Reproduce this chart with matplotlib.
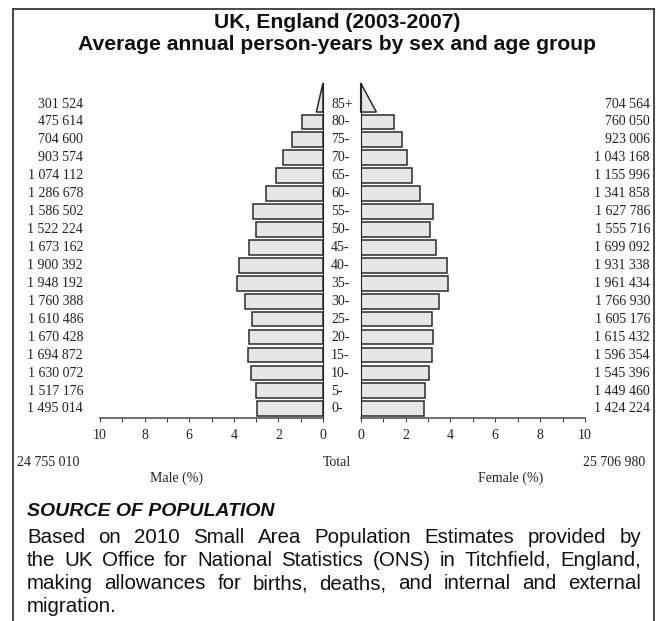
import numpy as np
import matplotlib
matplotlib.use("Agg")
import matplotlib.pyplot as plt
from matplotlib.patches import Polygon
from matplotlib.lines import Line2D

# Age groups, youngest first
age_groups = ["0-", "5-", "10-", "15-", "20-", "25-", "30-", "35-", "40-",
              "45-", "50-", "55-", "60-", "65-", "70-", "75-", "80-", "85+"]

male_py = [1495014, 1517176, 1630072, 1694872, 1670428, 1610486, 1760388,
           1948192, 1900392, 1673162, 1522224, 1586502, 1286678, 1074112,
           903574, 704600, 475614, 301524]

female_py = [1424224, 1449460, 1545396, 1596354, 1615432, 1605176, 1766930,
             1961434, 1931338, 1699092, 1555716, 1627786, 1341858, 1155996,
             1043168, 923006, 760050, 704564]

male_total = 24755010
female_total = 25706980

xticks = [0, 2, 4, 6, 8, 10]

W, H = 657, 621
DPI = 100
SERIF = "Liberation Serif"
SANS = "Liberation Sans"
LBL = 10

grand_total = male_total + female_total
male_pct = np.array(male_py) / grand_total * 100
female_pct = np.array(female_py) / grand_total * 100

fig = plt.figure(figsize=(W / DPI, H / DPI), dpi=DPI)
fig.patch.set_facecolor("white")


def fx(px):
    return px / W


def fy(py):
    return 1 - py / H


def ptext(x, y, s, **kw):
    return fig.text(fx(x), fy(y), s, **kw)


def spaced(v):
    return f"{v:,}".replace(",", " ")


# Frame around the panel (open at the bottom)
frame = dict(color="#3a3a3a", lw=1.3, transform=fig.transFigure)
fig.add_artist(Line2D([fx(13), fx(13)], [fy(9), 0], **frame))
fig.add_artist(Line2D([fx(654), fx(654)], [fy(9), 0], **frame))
fig.add_artist(Line2D([fx(13), fx(654)], [fy(9), fy(9)], **frame))

# Title
ptext(337, 23, "UK, England (2003-2007)", ha="center", va="center",
      fontsize=15.2, fontweight="bold", family=SANS, color="#111111")
ptext(337, 45, "Average annual person-years by sex and age group",
      ha="center", va="center", fontsize=15.2, fontweight="bold",
      family=SANS, color="#111111")

# Pyramid axes
ax_bottom_px, ax_top_px = 417.7, 83.0
ylo, yhi = -0.5, 18.17
ax_h = (ax_bottom_px - ax_top_px) / H
ax_m = fig.add_axes([fx(100), fy(ax_bottom_px), (323 - 100) / W, ax_h])
ax_f = fig.add_axes([fx(360.7), fy(ax_bottom_px), (585 - 360.7) / W, ax_h])

n = len(age_groups)
ypos = np.arange(n)
bar_h = 0.82
face = "#e6e6e6"
edge = "#2a2a2a"

for ax, pct in ((ax_m, male_pct), (ax_f, female_pct)):
    ax.set_xlim(0, 10)
    ax.set_ylim(ylo, yhi)
    ax.barh(ypos[:-1], pct[:-1], height=bar_h, color=face,
            edgecolor=edge, linewidth=1.1, zorder=2)
    # open-ended oldest group drawn as a triangle
    base_y = ypos[-1] - 0.45
    tri = Polygon([(0, base_y), (pct[-1] / 2, base_y), (0, yhi)],
                  closed=True, facecolor=face, edgecolor=edge,
                  linewidth=1.1, zorder=2, clip_on=False)
    ax.add_patch(tri)
    ax.set_xticks(np.arange(0, 11, 1))
    ax.set_xticklabels([str(t) if t in xticks else "" for t in range(11)],
                       family=SERIF, fontsize=LBL, color="#222222")
    ax.tick_params(axis="x", direction="out", length=3, width=0.8,
                   color="#444444", pad=5)
    ax.set_yticks([])
    for s in ("top", "left", "right"):
        ax.spines[s].set_visible(False)
    ax.spines["bottom"].set_color("#555555")
    ax.spines["bottom"].set_linewidth(1.2)
    ax.patch.set_alpha(0)

ax_m.invert_xaxis()
ax_m.spines["right"].set_visible(True)
ax_m.spines["right"].set_color("#222222")
ax_f.spines["left"].set_visible(True)
ax_f.spines["left"].set_color("#222222")

# Row labels: counts and age groups
row0_px, row_step = 409.0, 17.94
for i, age in enumerate(age_groups):
    y = row0_px - i * row_step
    ptext(83, y, spaced(male_py[i]), ha="right", va="center",
          family=SERIF, fontsize=LBL, color="#222222")
    ptext(650, y, spaced(female_py[i]), ha="right", va="center",
          family=SERIF, fontsize=LBL, color="#222222")
    ptext(331, y, age, ha="left", va="center", family=SERIF,
          fontsize=LBL, color="#222222")

# Totals and axis titles
ptext(17, 463, spaced(male_total), ha="left", va="center",
      family=SERIF, fontsize=LBL, color="#222222")
ptext(337, 463, "Total", ha="center", va="center", family=SERIF,
      fontsize=LBL, color="#222222")
ptext(645, 463, spaced(female_total), ha="right", va="center",
      family=SERIF, fontsize=LBL, color="#222222")
ptext(177, 478, "Male (%)", ha="center", va="center", family=SERIF,
      fontsize=LBL, color="#222222")
ptext(511, 478, "Female (%)", ha="center", va="center", family=SERIF,
      fontsize=LBL, color="#222222")

# Source note
ptext(27, 512, "SOURCE OF POPULATION", ha="left", va="center",
      family=SANS, fontsize=14, fontweight="bold", style="italic",
      color="#111111")

note_lines = [
    "Based on 2010 Small Area Population Estimates provided by",
    "the UK Office for National Statistics (ONS) in Titchfield, England,",
    "making allowances for births, deaths, and internal and external",
    "migration.",
]
BODY = 14.8
left_px, right_px = 27, 641
baselines = [543, 566, 589, 612]
renderer = fig.canvas.get_renderer()
for k, line in enumerate(note_lines):
    words = line.split(" ")
    if k == len(note_lines) - 1:
        ptext(left_px, baselines[k], line, ha="left", va="baseline",
              family=SANS, fontsize=BODY, color="#111111")
        continue
    # justified line: spread the words evenly between the margins
    arts = [ptext(0, baselines[k], w, ha="left", va="baseline",
                  family=SANS, fontsize=BODY, color="#111111")
            for w in words]
    widths = [a.get_window_extent(renderer).width for a in arts]
    gap = (right_px - left_px - sum(widths)) / (len(words) - 1)
    x = left_px
    for a, wd in zip(arts, widths):
        a.set_x(fx(x))
        x += wd + gap

fig.savefig("out.png", dpi=DPI, facecolor="white")
